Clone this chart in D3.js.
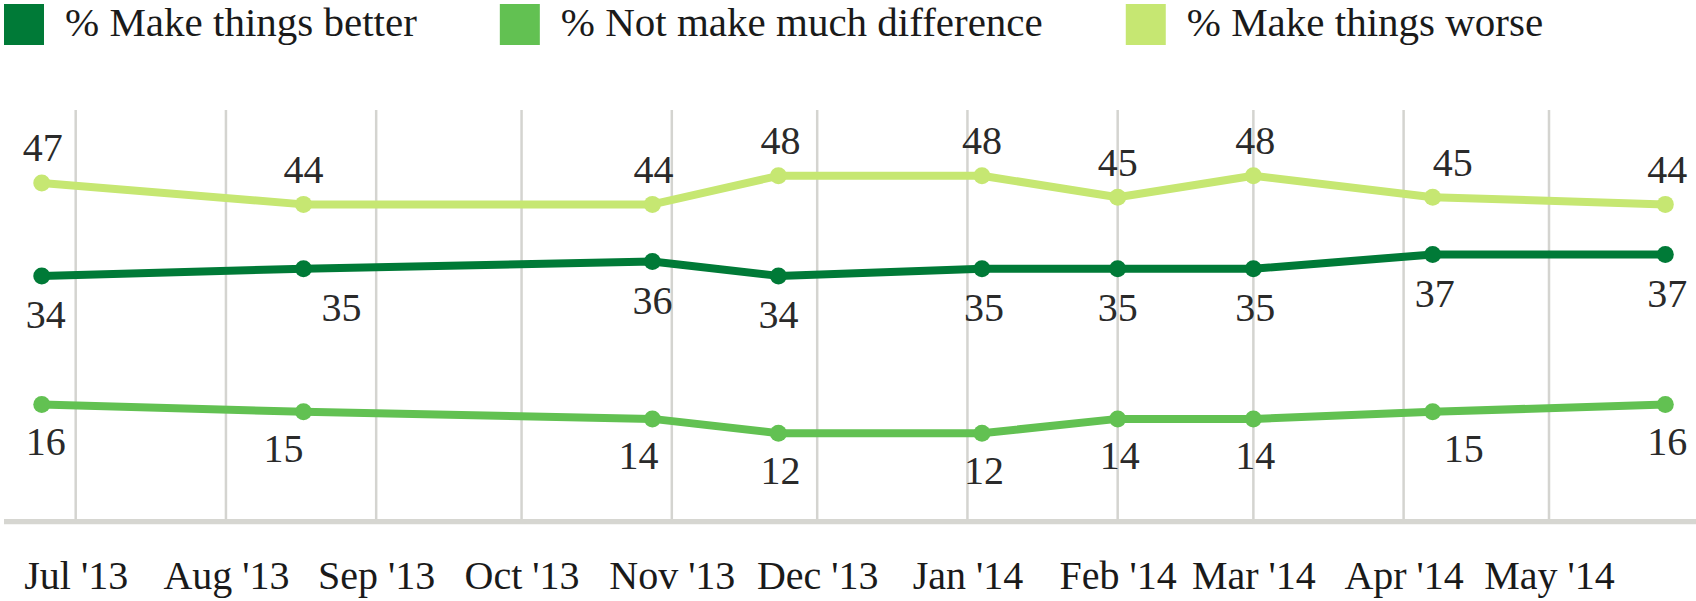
<!DOCTYPE html>
<html>
<head>
<meta charset="utf-8">
<script src="https://cdn.jsdelivr.net/npm/d3@7"></script>
<style>
  html, body { margin: 0; padding: 0; background: #fff; }
  svg { display: block; }
</style>
</head>
<body>
<svg id="chart" width="1696" height="601"></svg>
<script>
// ---- data ----
const surveyDates = ["2013-06-24", "2013-08-17", "2013-10-28", "2013-11-23", "2014-01-04",
                     "2014-02-01", "2014-03-01", "2014-04-07", "2014-05-25"];
const makeBetter = [34, 35, 36, 34, 35, 35, 35, 37, 37];
const notMuchDifference = [16, 15, 14, 12, 12, 14, 14, 15, 16];
const makeWorse = [47, 44, 44, 48, 48, 45, 48, 45, 44];
const seriesNames = ["% Make things better", "% Not make much difference", "% Make things worse"];
const tickLabels = ["Jul '13", "Aug '13", "Sep '13", "Oct '13", "Nov '13", "Dec '13",
                    "Jan '14", "Feb '14", "Mar '14", "Apr '14", "May '14"];

// label nudges (horizontal offsets, px) kept separate from the data
const nudgeBetter = [4, 38, 0, 0, 2, 0, 2, 2, 2];
const nudgeNot = [4, -20, -14, 2, 2, 2, 2, 31, 2];
const nudgeWorse = [1, 0, 1, 2, 0, 0, 2, 20, 2];

const colors = ["#007a37", "#62c152", "#c6e772"];
const FONT = "Liberation Serif";

// ---- scales ----
const svg = d3.select("#chart");
const parse = d3.utcParse("%Y-%m-%d");
const dates = surveyDates.map(parse);

const x = d3.scaleUtc()
  .domain([Date.UTC(2013, 6, 1), Date.UTC(2014, 4, 1)])
  .range([75.7, 1549]);
const y = d3.scaleLinear().domain([0, 57.2]).range([519, 110]);

const tickDates = d3.utcMonth.range(new Date(Date.UTC(2013, 6, 1)), new Date(Date.UTC(2014, 4, 2)));

// ---- gridlines ----
svg.append("g").selectAll("line").data(tickDates).join("line")
  .attr("x1", d => x(d)).attr("x2", d => x(d))
  .attr("y1", y.range()[1]).attr("y2", y(0))
  .attr("stroke", "#d4d4d0").attr("stroke-width", 2.5);

// baseline
svg.append("line")
  .attr("x1", 4).attr("x2", 1696)
  .attr("y1", y(0) + 2.6).attr("y2", y(0) + 2.6)
  .attr("stroke", "#d6d6d1").attr("stroke-width", 5.3);

// x axis labels
const xAxis = d3.axisBottom(x).tickValues(tickDates)
  .tickFormat((d, i) => tickLabels[i]).tickSize(0).tickPadding(0);
const gx = svg.append("g").attr("transform", `translate(0,${y(0)})`).call(xAxis);
gx.attr("font-family", FONT).attr("font-size", 40);
gx.select(".domain").remove();
gx.selectAll("text")
  .attr("dy", null).attr("y", 70)
  .attr("font-family", FONT)
  .attr("fill", "#1a1a1a");

// ---- lines ----
const series = [
  { name: seriesNames[0], values: makeBetter, color: colors[0], nudge: nudgeBetter, dy: 52.5 },
  { name: seriesNames[1], values: notMuchDifference, color: colors[1], nudge: nudgeNot, dy: 50.5 },
  { name: seriesNames[2], values: makeWorse, color: colors[2], nudge: nudgeWorse, dy: -21.5 }
];

const line = d3.line().x((d, i) => x(dates[i])).y(d => y(d));

series.forEach(s => {
  const g = svg.append("g");
  g.append("path").datum(s.values)
    .attr("d", line)
    .attr("fill", "none")
    .attr("stroke", s.color)
    .attr("stroke-width", 8)
    .attr("stroke-linejoin", "round");
  g.selectAll("circle").data(s.values).join("circle")
    .attr("cx", (d, i) => x(dates[i]))
    .attr("cy", d => y(d))
    .attr("r", 8.5)
    .attr("fill", s.color);
  g.selectAll("text").data(s.values).join("text")
    .attr("x", (d, i) => x(dates[i]) + s.nudge[i])
    .attr("y", d => y(d) + s.dy)
    .attr("text-anchor", "middle")
    .attr("font-family", FONT)
    .attr("font-size", 40)
    .attr("fill", "#2a2a2a")
    .text(d => d);
});

// ---- legend ----
const legend = svg.append("g");
let lx = 4;
seriesNames.forEach((name, i) => {
  const item = legend.append("g").attr("transform", `translate(${lx},0)`);
  item.append("rect").attr("x", 0).attr("y", 4).attr("width", 40).attr("height", 41)
    .attr("fill", colors[i]);
  const t = item.append("text").attr("x", 61).attr("y", 36)
    .attr("font-family", FONT)
    .attr("font-size", 41)
    .attr("fill", "#1a1a1a")
    .text(name);
  const w = t.node().getComputedTextLength();
  lx += 61 + w + 83;
});
</script>
</body>
</html>
